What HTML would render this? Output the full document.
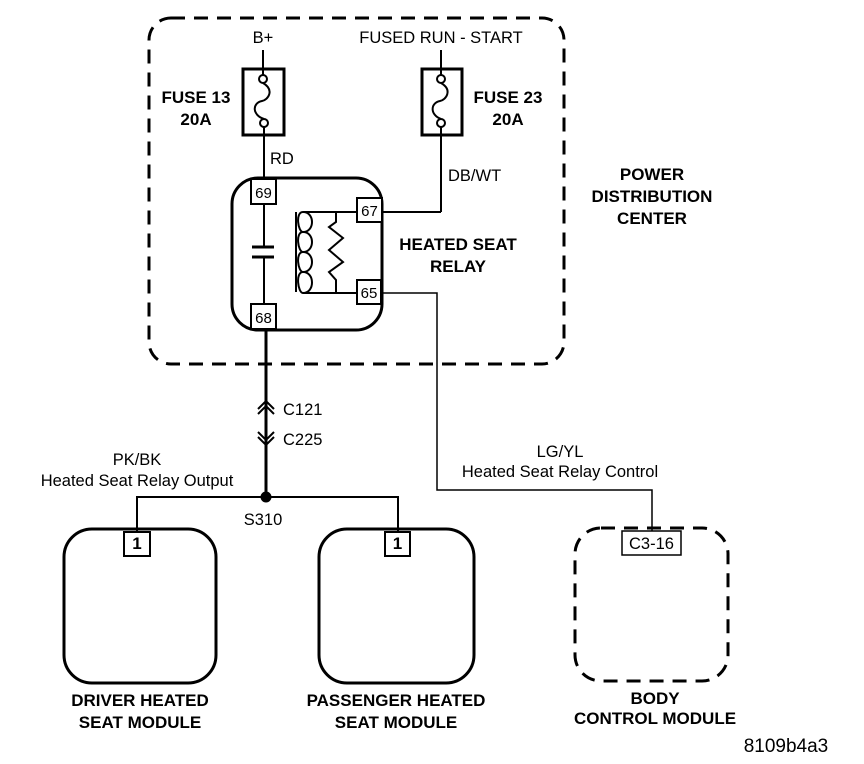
<!DOCTYPE html>
<html><head><style>
body{margin:0;background:#fff}
svg{display:block}
text{font-family:"Liberation Sans",Arial,sans-serif;fill:#000}
.b{font-weight:bold;font-size:17px}
.n{font-size:16.5px}
</style></head><body>
<svg width="864" height="764" viewBox="0 0 864 764" xmlns="http://www.w3.org/2000/svg" fill="none" stroke="#000">
<rect x="149" y="18" width="415" height="346" rx="22" stroke-width="3" stroke-dasharray="14,9"/>
<rect x="243" y="69" width="41" height="66" stroke-width="3"/>
<rect x="422" y="69" width="40" height="66" stroke-width="3"/>
<line x1="263" y1="50" x2="263" y2="75" stroke-width="2"/>
<line x1="441" y1="50" x2="441" y2="75" stroke-width="2"/>
<circle cx="263" cy="79" r="4" stroke-width="2" fill="#fff"/>
<circle cx="264" cy="123" r="4" stroke-width="2" fill="#fff"/>
<circle cx="441" cy="79" r="4" stroke-width="2" fill="#fff"/>
<circle cx="441" cy="123" r="4" stroke-width="2" fill="#fff"/>
<path d="M263 83 C275 90,268 100,262 101 C252 103,252 115,264 119" stroke-width="2"/>
<path d="M441 83 C453 90,446 100,440 101 C430 103,430 115,441 119" stroke-width="2"/>
<line x1="264" y1="127" x2="264" y2="179" stroke-width="2"/>
<line x1="441" y1="127" x2="441" y2="212" stroke-width="2"/>
<line x1="382" y1="212" x2="441" y2="212" stroke-width="2"/>
<rect x="232" y="178" width="150" height="152" rx="26" stroke-width="3"/>
<rect x="251" y="179" width="25" height="25" stroke-width="2" fill="#fff"/>
<rect x="251" y="304" width="25" height="25" stroke-width="2" fill="#fff"/>
<rect x="357" y="198" width="25" height="24" stroke-width="2" fill="#fff"/>
<rect x="357" y="280" width="24" height="24" stroke-width="2" fill="#fff"/>
<line x1="264" y1="204" x2="264" y2="247" stroke-width="2"/>
<line x1="252" y1="247" x2="274" y2="247" stroke-width="3"/>
<line x1="252" y1="257" x2="274" y2="257" stroke-width="3"/>
<line x1="264" y1="257" x2="264" y2="304" stroke-width="2"/>
<line x1="296" y1="212" x2="296" y2="292" stroke-width="2"/>
<line x1="303" y1="212" x2="357" y2="212" stroke-width="2"/>
<line x1="303" y1="293" x2="357" y2="293" stroke-width="2"/>
<path d="M303 212 C295 212,298 232,303 232 C295 232,298 252,303 252 C295 252,298 272,303 272 C295 272,298 293,303 293" stroke-width="2"/>
<path d="M303 212 C315 212,315 232,303 232 C315 232,315 252,303 252 C315 252,315 272,303 272 C315 272,315 293,303 293" stroke-width="2"/>
<path d="M336 212 L336 222 L329 227 L343 238 L329 250 L343 262 L329 272 L336 280 L336 293" stroke-width="2"/>
<polyline points="381,293 437,293 437,490 652,490 652,531" stroke-width="1.5"/>
<line x1="266" y1="329" x2="266" y2="497" stroke-width="3"/>
<polyline points="258,409 266,401 274,409" stroke-width="2"/>
<polyline points="258,414 266,406 274,414" stroke-width="2"/>
<polyline points="258,432 266,440 274,432" stroke-width="2"/>
<polyline points="258,437 266,445 274,437" stroke-width="2"/>
<circle cx="266" cy="497" r="5" fill="#000"/>
<polyline points="137,532 137,497 398,497 398,532" stroke-width="2"/>
<rect x="64" y="529" width="152" height="154" rx="28" stroke-width="3"/>
<rect x="319" y="529" width="155" height="154" rx="28" stroke-width="3"/>
<rect x="575" y="528" width="153" height="153" rx="26" stroke-width="3" stroke-dasharray="14,9"/>
<rect x="124" y="532" width="26" height="24" stroke-width="2" fill="#fff"/>
<rect x="385" y="532" width="25" height="24" stroke-width="2" fill="#fff"/>
<rect x="622" y="531" width="59" height="24" stroke-width="1.5" fill="#fff"/>
<g stroke="none">
<text class="n" x="263" y="43" text-anchor="middle">B+</text>
<text class="n" x="441" y="43" text-anchor="middle">FUSED RUN - START</text>
<text class="b" x="196" y="103" text-anchor="middle">FUSE 13</text>
<text class="b" x="196" y="125" text-anchor="middle">20A</text>
<text class="b" x="508" y="103" text-anchor="middle">FUSE 23</text>
<text class="b" x="508" y="125" text-anchor="middle">20A</text>
<text class="n" x="270" y="164">RD</text>
<text class="n" x="448" y="181">DB/WT</text>
<text class="n" x="263.5" y="198" text-anchor="middle" style="font-size:15px">69</text>
<text class="n" x="263.5" y="323" text-anchor="middle" style="font-size:15px">68</text>
<text class="n" x="369.5" y="216" text-anchor="middle" style="font-size:15px">67</text>
<text class="n" x="369" y="298" text-anchor="middle" style="font-size:15px">65</text>
<text class="b" x="458" y="250" text-anchor="middle">HEATED SEAT</text>
<text class="b" x="458" y="272" text-anchor="middle">RELAY</text>
<text class="b" x="652" y="180" text-anchor="middle">POWER</text>
<text class="b" x="652" y="202" text-anchor="middle">DISTRIBUTION</text>
<text class="b" x="652" y="224" text-anchor="middle">CENTER</text>
<text class="n" x="283" y="415">C121</text>
<text class="n" x="283" y="445">C225</text>
<text class="n" x="137" y="465" text-anchor="middle">PK/BK</text>
<text class="n" x="137" y="486" text-anchor="middle">Heated Seat Relay Output</text>
<text class="n" x="263" y="525" text-anchor="middle">S310</text>
<text class="n" x="560" y="457" text-anchor="middle">LG/YL</text>
<text class="n" x="560" y="477" text-anchor="middle">Heated Seat Relay Control</text>
<text class="b" x="137" y="549" text-anchor="middle">1</text>
<text class="b" x="397.5" y="549" text-anchor="middle">1</text>
<text class="n" x="651.5" y="549" text-anchor="middle">C3-16</text>
<text class="b" x="140" y="706" text-anchor="middle">DRIVER HEATED</text>
<text class="b" x="140" y="728" text-anchor="middle">SEAT MODULE</text>
<text class="b" x="396" y="706" text-anchor="middle">PASSENGER HEATED</text>
<text class="b" x="396" y="728" text-anchor="middle">SEAT MODULE</text>
<text class="b" x="655" y="704" text-anchor="middle">BODY</text>
<text class="b" x="655" y="724" text-anchor="middle">CONTROL MODULE</text>
<text class="n" x="786" y="752" text-anchor="middle" style="font-size:19px">8109b4a3</text>
</g>
</svg>
</body></html>
